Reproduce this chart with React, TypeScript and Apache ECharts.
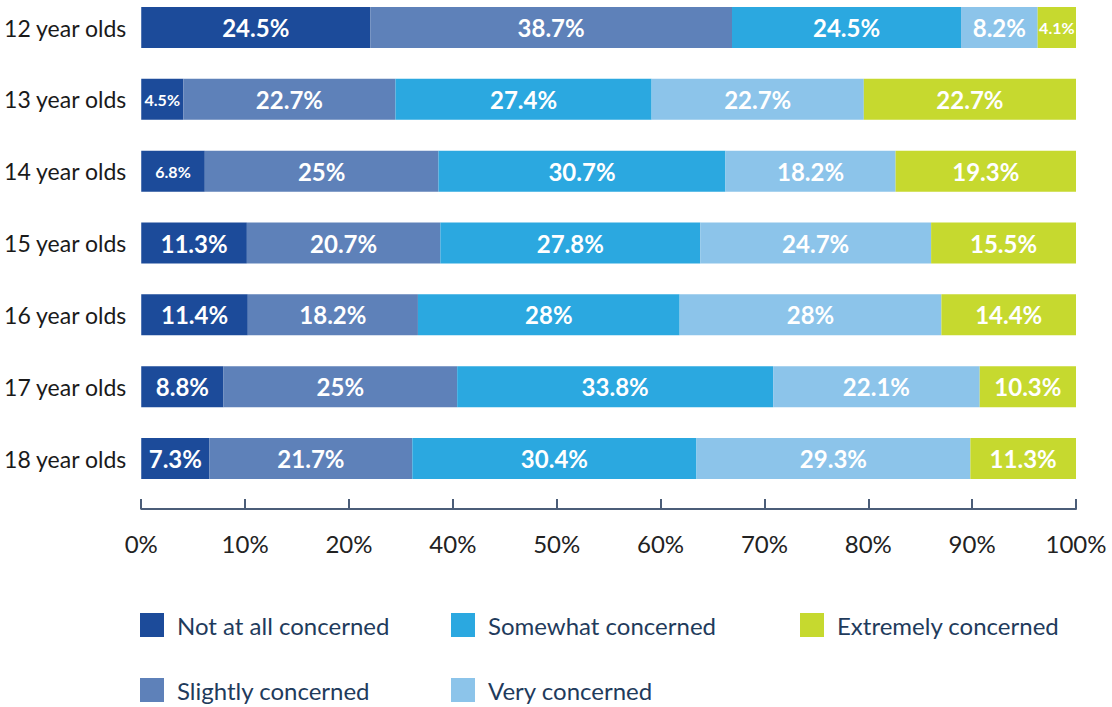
import React, { useEffect, useRef } from "react";
import * as echarts from "echarts";

const categories = ["12 year olds", "13 year olds", "14 year olds", "15 year olds", "16 year olds", "17 year olds", "18 year olds"];
const seriesNames = ["Not at all concerned", "Slightly concerned", "Somewhat concerned", "Very concerned", "Extremely concerned"];
const notAtAll = [24.5, 4.5, 6.8, 11.3, 11.4, 8.8, 7.3];
const slightly = [38.7, 22.7, 25, 20.7, 18.2, 25, 21.7];
const somewhat = [24.5, 27.4, 30.7, 27.8, 28, 33.8, 30.4];
const very = [8.2, 22.7, 18.2, 24.7, 28, 22.1, 29.3];
const extremely = [4.1, 22.7, 19.3, 15.5, 14.4, 10.3, 11.3];
const tickLabels = ["0%", "10%", "20%", "40%", "50%", "60%", "70%", "80%", "90%", "100%"];

const colors = ["#1c4b9a", "#5e81b9", "#2ba8e0", "#8cc4ea", "#c6d92f"];
const FONT = "Lato, 'Noto Sans', sans-serif";

// legend slot positions (left, top) for each series
const legendPos = [
  [140, 613],
  [140, 678],
  [451, 613],
  [451, 678],
  [800, 613],
];

export default function App() {
  const ref = useRef<HTMLDivElement>(null);
  useEffect(() => {
    if (!ref.current) return;
    const chart = echarts.init(ref.current, undefined, { renderer: "svg" });
    const allData = [notAtAll, slightly, somewhat, very, extremely];
    const series = allData.map((arr, i) => ({
      name: seriesNames[i],
      type: "bar",
      stack: "total",
      xAxisIndex: 0,
      barWidth: 41,
      clip: false,
      itemStyle: { color: colors[i] },
      label: {
        show: true,
        position: "inside",
        color: "#ffffff",
        fontWeight: "bold",
        fontFamily: FONT,
        fontSize: 24,
        formatter: (p: any) => `${p.value}%`,
      },
      data: arr.map((v) => (v < 7 ? { value: v, label: { fontSize: 16 } } : v)),
    }));
    const legends = seriesNames.map((name, i) => ({
      orient: "horizontal",
      left: legendPos[i][0],
      top: legendPos[i][1],
      padding: 0,
      itemWidth: 24,
      itemHeight: 24,
      icon: "rect",
      data: [name],
      textStyle: { color: "#1f3b5c", fontSize: 24, fontFamily: FONT, padding: [0, 0, 0, 8] },
    }));
    chart.setOption({
      animation: false,
      grid: { left: 140, right: 36, top: 27.5, height: 431, containLabel: false },
      legend: legends,
      xAxis: [
        { type: "value", min: 0, max: 100, show: false },
        {
          type: "category",
          position: "bottom",
          offset: 50.5,
          boundaryGap: false,
          data: tickLabels,
          axisLine: { show: true, lineStyle: { color: "#4b5d78", width: 2 } },
          axisTick: { show: true, inside: true, length: 10, interval: 0, lineStyle: { color: "#4b5d78", width: 2 } },
          axisLabel: { interval: 0, margin: 22, fontSize: 24, color: "#222222", fontFamily: FONT },
          splitLine: { show: false },
        },
      ],
      yAxis: {
        type: "category",
        inverse: true,
        boundaryGap: false,
        data: categories,
        axisLine: { show: false },
        axisTick: { show: false },
        splitLine: { show: false },
        axisLabel: { margin: 15, fontSize: 23, color: "#1a1a1a", fontFamily: FONT },
      },
      series,
    });
    return () => chart.dispose();
  }, []);
  return <div ref={ref} style={{ width: 1112, height: 707, position: "absolute", left: 0, top: 0 }} />;
}
